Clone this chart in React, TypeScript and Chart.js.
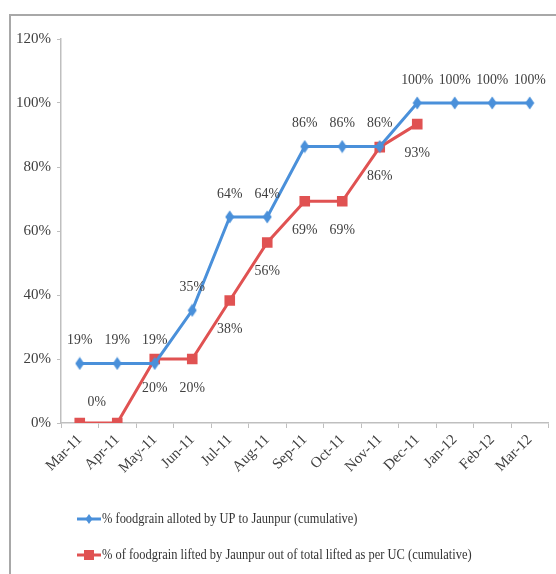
import React, { useEffect, useRef } from "react";
import { Chart, registerables } from "chart.js";

Chart.register(...registerables);

const months = ["Mar-11", "Apr-11", "May-11", "Jun-11", "Jul-11", "Aug-11", "Sep-11", "Oct-11", "Nov-11", "Dec-11", "Jan-12", "Feb-12", "Mar-12"];
const allotted = [18.6, 18.6, 18.6, 35.2, 64.4, 64.4, 86.4, 86.4, 86.4, 100, 100, 100, 100];
const lifted = [0, 0, 20, 20, 38.3, 56.4, 69.3, 69.3, 86.2, 93.4, null, null, null];
const seriesNames = [
  "% foodgrain alloted by UP to Jaunpur (cumulative)",
  "% of foodgrain lifted by Jaunpur out of total lifted as per UC (cumulative)",
];
const yTicks = [0, 20, 40, 60, 80, 100, 120];

const BLUE = "#4A90DA";
const RED = "#E05252";
const FONT = "'Liberation Serif', 'DejaVu Serif', serif";

function drawScaledText(ctx: any, txt: string, x: number, y: number, sx: number, align: string) {
  ctx.save();
  ctx.translate(x, y);
  ctx.scale(sx, 1);
  ctx.textAlign = align;
  ctx.fillText(txt, 0, 0);
  ctx.restore();
}

const labelPlugin = {
  id: "valueLabels",
  afterDatasetsDraw(chart: any) {
    const ctx = chart.ctx;
    ctx.save();
    ctx.font = `15px ${FONT}`;
    ctx.fillStyle = "#404040";
    ctx.textBaseline = "middle";
    chart.data.datasets.forEach((ds: any, di: number) => {
      const meta = chart.getDatasetMeta(di);
      meta.data.forEach((pt: any, i: number) => {
        const v = ds.data[i];
        if (v === null || v === undefined) return;
        const txt = Math.round(v) + "%";
        if (di === 0) {
          drawScaledText(ctx, txt, pt.x, pt.y - 23, 0.92, "center");
        } else {
          if (i === 1) return;
          if (i === 0) drawScaledText(ctx, txt, pt.x + 17, pt.y - 21, 0.92, "center");
          else drawScaledText(ctx, txt, pt.x, pt.y + 29, 0.92, "center");
        }
      });
    });
    ctx.restore();
  },
};

const legendPlugin = {
  id: "customLegend",
  afterDraw(chart: any) {
    const ctx = chart.ctx;
    ctx.save();
    const rows = [503, 539];
    const colors = [BLUE, RED];
    rows.forEach((y, i) => {
      ctx.strokeStyle = colors[i];
      ctx.fillStyle = colors[i];
      ctx.lineWidth = 3;
      ctx.beginPath();
      ctx.moveTo(66, y);
      ctx.lineTo(90, y);
      ctx.stroke();
      const cx = 78;
      ctx.beginPath();
      if (i === 0) {
        ctx.moveTo(cx, y - 5);
        ctx.lineTo(cx + 3.5, y);
        ctx.lineTo(cx, y + 5);
        ctx.lineTo(cx - 3.5, y);
        ctx.closePath();
      } else {
        ctx.rect(cx - 5, y - 5, 10, 10);
      }
      ctx.fill();
      ctx.font = `15px ${FONT}`;
      ctx.fillStyle = "#333333";
      ctx.textBaseline = "middle";
      drawScaledText(ctx, seriesNames[i], 91, y, 0.83, "left");
    });
    ctx.restore();
  },
};

function makeDiamond(): HTMLCanvasElement {
  const c = document.createElement("canvas");
  c.width = 10;
  c.height = 14;
  const g = c.getContext("2d")!;
  g.fillStyle = BLUE;
  g.beginPath();
  g.moveTo(5, 0.5);
  g.lineTo(9.5, 7);
  g.lineTo(5, 13.5);
  g.lineTo(0.5, 7);
  g.closePath();
  g.fill();
  return c;
}

export default function App() {
  const ref = useRef<HTMLCanvasElement | null>(null);
  useEffect(() => {
    if (!ref.current) return;
    const diamond = makeDiamond();
    const chart = new Chart(ref.current, {
      type: "line",
      data: {
        labels: months,
        datasets: [
          {
            label: seriesNames[0],
            data: allotted,
            borderColor: BLUE,
            backgroundColor: BLUE,
            borderWidth: 3,
            pointStyle: diamond as any,
            pointRadius: 6,
            pointBorderWidth: 0,
            tension: 0,
          },
          {
            label: seriesNames[1],
            data: lifted,
            borderColor: RED,
            backgroundColor: RED,
            borderWidth: 3,
            pointStyle: "rect",
            pointRadius: 7.5,
            pointBorderWidth: 0,
            tension: 0,
          },
        ],
      },
      options: {
        responsive: false,
        animation: false,
        layout: { padding: { top: 23, right: 4, left: 0, bottom: 71 } },
        plugins: {
          legend: { display: false },
          tooltip: { enabled: false },
        },
        scales: {
          x: {
            offset: true,
            grid: {
              offset: true,
              drawOnChartArea: false,
              drawTicks: true,
              tickLength: 5,
              color: "#bfbfbf",
            },
            border: { color: "#bfbfbf", width: 1.5 },
            ticks: {
              autoSkip: false,
              maxRotation: 45,
              minRotation: 45,
              padding: 3,
              color: "#404040",
              font: { family: FONT, size: 15 },
            },
            afterFit: (s: any) => {
              s.height = 80;
            },
          },
          y: {
            min: 0,
            max: 120,
            afterBuildTicks: (s: any) => {
              s.ticks = yTicks.map((v) => ({ value: v }));
            },
            grid: {
              drawOnChartArea: false,
              drawTicks: true,
              tickLength: 4,
              color: "#bfbfbf",
            },
            border: { color: "#bfbfbf", width: 1.5 },
            ticks: {
              padding: 6,
              color: "#404040",
              font: { family: FONT, size: 15 },
              callback: (v: any) => v + "%",
            },
            afterFit: (s: any) => {
              s.width = 50;
            },
          },
        },
      },
      plugins: [labelPlugin, legendPlugin],
    });
    return () => chart.destroy();
  }, []);

  return (
    <div
      style={{
        position: "fixed",
        left: 9,
        top: 14,
        width: 547,
        height: 560,
        borderTop: "2px solid #a8a8a8",
        borderLeft: "2px solid #a8a8a8",
        boxSizing: "border-box",
        background: "#fff",
        overflow: "hidden",
      }}
    >
      <canvas ref={ref} width={545} height={558} style={{ display: "block" }} />
    </div>
  );
}
